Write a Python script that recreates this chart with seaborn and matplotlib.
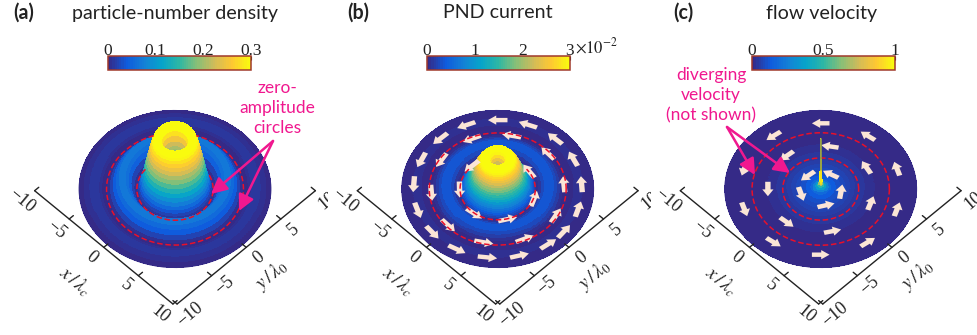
import numpy as np
import seaborn as sns
import matplotlib.pyplot as plt
from matplotlib.cm import ScalarMappable
from matplotlib.colors import ListedColormap, Normalize
from mpl_toolkits.mplot3d import proj3d
from mpl_toolkits.mplot3d.art3d import Poly3DCollection

# radial profiles
radii = [0, .1, .2, .3, .4, .5, .6, .7, .8, .9, 1, 1.1, 1.2, 1.3, 1.4, 1.5, 1.6, 1.7, 1.8, 1.9,
         2, 2.1, 2.2, 2.3, 2.4, 2.5, 2.6, 2.7, 2.8, 2.9, 3, 3.1, 3.2, 3.3, 3.4, 3.5, 3.6, 3.7, 3.8, 3.9,
         4.2, 4.5, 4.8, 5.1, 5.4, 5.7, 6.0, 6.3, 6.6, 6.9, 7.2, 7.5, 7.8, 8.1, 8.4, 8.7, 9.0, 9.3, 9.6, 9.8]
density = [.17, .17, .171, .172, .174, .176, .179, .182, .186, .191, .198, .212, .235, .265, .29, .305,
           .312, .316, .318, .318, .316, .31, .3, .288, .272, .254, .235, .215, .194, .172, .149, .126,
           .103, .082, .062, .044, .029, .016, .007, .002,
           .01, .032, .053, .066, .07, .063, .048, .029, .012, .002, .001, .004, .008, .011,
           .012, .01, .007, .004, .002, .001]
current = [.016, .0163, .017, .018, .0195, .021, .0235, .026, .0285, .0305, .0318, .0325, .0328, .0327,
           .0323, .0316, .0307, .0297, .0287, .0277, .0265, .0252, .0238, .0222, .0205, .0188, .0172,
           .0156, .014, .0125, .011, .0095, .0082, .007, .0058, .0047, .0036, .0026, .0016, .0006,
           .0008, .002, .003, .0036, .0036, .003, .002, .001, .0003, .0001, .0001,
           .0003, .0005, .0006, .0006, .0005, .0004, .0002, .0001, .0001]
velocity_radii = [0, .03, .06, .1, .15, .2, .3, .5, .75, 1, 1.5, 2, 2.5, 3, 3.5, 4, 4.5, 5,
                  5.5, 6, 7, 8, 9, 9.8]
velocity = [5, 3, 2, 1.2, .8, .55, .42, .3, .21, .16, .115, .09, .075, .06, .05, .04,
            .03, .02, .012, .006, .004, .003, .002, .001]
spike_upper = [1.75, 5]
spike_lower = [.5, 1.75]

# colour bars
titles = ["particle-number density", "PND current", "flow velocity"]
letters = ["(a)", "(b)", "(c)"]
bar_ticks = [[0, .1, .2, .3], [0, .01, .02, .03], [0, .5, 1]]
bar_labels = [["0", "0.1", "0.2", "0.3"], ["0", "1", "2", "3"], ["0", "0.5", "1"]]
bar_max = [.3, .03, 1]

# zero-amplitude circles: radius, first and last visible screen angle (deg)
circles_a = [(3.9, 141, 391), (7.0, 108, 432)]
circles_b = [(3.85, 140, 400), (7.0, 0, 360)]
circles_c = [(3.88, 0, 360), (7.02, 0, 360)]

# arrows: ring radius and screen angle of each arrow (deg)
arrows_b = [(8.6, [90, 112, 133, 155, 176, 198, 219, 241, 263, 285, 307, 322, 343, 4, 26, 47, 69]),
            (6.8, [78, 113, 148, 184, 222, 258, 294, 331, 5, 41]),
            (3.9, [133, 181, 232, 285, 342, 35])]
arrows_c = [(8.2, [90, 126, 162, 198, 234, 270, 306, 342, 18, 54]),
            (5.4, [80, 130, 180, 230, 283, 341, 30]),
            (2.1, [129, 197, 285, 351, 61])]

axis_ticks = [-10, -5, 0, 5, 10]
tick_names = ["\u221210", "\u22125", "0", "5", "10"]

PINK = "#f0188f"
RED = "#e8102a"
PEACH = "#fbe5d6"
DARK = "#222222"
SERIF = "Liberation Serif"
PX = 1 / 977, 1 / 335

sns.set_theme(style="white")
plt.rcParams["font.family"] = ["Lato", "DejaVu Sans"]
plt.rcParams["mathtext.fontset"] = "stix"

parula = ListedColormap(sns.blend_palette(
    ["#352a87", "#0f5cdd", "#1481d6", "#06a4ca", "#2eb7a4", "#87bf77", "#d1bb59", "#fec832", "#f9fb0e"],
    64))


def arrow_polygon(r, screen_deg, length=2.0, shaft=.55, head=1.15, head_len=.85):
    th = np.deg2rad(screen_deg + 45)
    n = np.array([np.cos(th), np.sin(th)])
    t = np.array([-np.sin(th), np.cos(th)])
    c = r * n
    along = [-length / 2, length / 2 - head_len, length / 2 - head_len, length / 2,
             length / 2 - head_len, length / 2 - head_len, -length / 2]
    across = [shaft / 2, shaft / 2, head / 2, 0, -head / 2, -shaft / 2, -shaft / 2]
    return [(*(c + a * t + b * n), 0) for a, b in zip(along, across)]


def floor_text(ax, x, y, s, rotation, **kw):
    # rotation does not survive on 3d text, so project by hand
    px, py, _ = proj3d.proj_transform(x, y, 0, ax.get_proj())
    ax.text2D(px, py, s, transform=ax.transData, rotation=rotation, rotation_mode="anchor",
              ha="center", va="center", color=DARK, clip_on=False, **kw)


def draw_panel(fig, cx, r, z, vmax, zh, circles, arrows=None, arrow_len=2.0):
    size = 330
    left = cx - .5135 * size
    bottom = (335 - 189) - .5135 * size
    ax = fig.add_axes([left * PX[0], bottom * PX[1], size * PX[0], size * PX[1]],
                      projection="3d", computed_zorder=False)
    ax.set_proj_type("ortho")
    ax.view_init(elev=55, azim=-45)
    ax.set_xlim(-15, 15)
    ax.set_ylim(-15, 15)
    ax.set_zlim(-zh, zh)
    ax.set_box_aspect((1, 1, 1), zoom=1.495)
    ax.set_xticks([])
    ax.set_yticks([])
    ax.set_zticks([])
    ax.set_axis_off()

    theta = np.deg2rad(np.arange(0, 361, 2))
    R, T = np.meshgrid(r, theta)
    Z = np.tile(z, (len(theta), 1))
    ax.plot_surface(R * np.cos(T), R * np.sin(T), Z, cmap=parula, vmin=0, vmax=vmax,
                    rstride=1, cstride=1, linewidth=0, antialiased=False, shade=False, zorder=1)
    # soft rim so the disc edge is not jagged
    ax.plot(r[-1] * np.cos(theta), r[-1] * np.sin(theta), 0, color="#352a87", lw=.8, zorder=1.5)

    if arrows:
        polys = [arrow_polygon(ring, a, length=arrow_len) for ring, angles in arrows for a in angles]
        arrow_set = Poly3DCollection(polys, zorder=2)
        ax.add_collection3d(arrow_set)
        arrow_set.set_facecolor(PEACH)
        arrow_set.set_edgecolor("none")

    for radius, a0, a1 in circles:
        th = np.deg2rad(np.arange(a0, a1 + 1) + 45)
        ax.plot(radius * np.cos(th), radius * np.sin(th), 0, color=RED, lw=1.1,
                ls=(0, (3.6, 1.8)), zorder=3)

    # hand drawn axes on the floor
    ax.plot([-10, 10], [-10.3, -10.3], 0, color=DARK, lw=1, zorder=3)
    ax.plot([10.3, 10.3], [-10, 10], 0, color=DARK, lw=1, zorder=3)
    for t, name in zip(axis_ticks, tick_names):
        ax.plot([t, t], [-10.3, -9.7], 0, color=DARK, lw=1, zorder=3)
        ax.plot([10.3, 9.7], [t, t], 0, color=DARK, lw=1, zorder=3)
        floor_text(ax, t, -12.1, name, -40, family=SERIF, fontsize=13)
        floor_text(ax, 12.1, t, name, 40, family=SERIF, fontsize=13)
    floor_text(ax, .9, -15.3, r"$x\,/\,\lambda_c$", -40, fontsize=13.5)
    floor_text(ax, 14.6, -.6, r"$y\,/\,\lambda_0$", 40, fontsize=13.5)
    return ax


def draw_bar(fig, left, i):
    cax = fig.add_axes([left * PX[0], (335 - 70) * PX[1], 143 * PX[0], 14 * PX[1]])
    cbar = fig.colorbar(ScalarMappable(Normalize(0, bar_max[i]), parula), cax=cax,
                        orientation="horizontal", ticks=bar_ticks[i])
    cbar.outline.set_edgecolor("#a0392b")
    cbar.outline.set_linewidth(1.1)
    cax.xaxis.set_ticks_position("top")
    cax.tick_params(axis="x", direction="in", length=3, width=.8, color=DARK, pad=-2.5, top=True, bottom=False)
    cax.set_xticklabels(bar_labels[i], family=SERIF, fontsize=12.5, color=DARK)


def main():
    fig = plt.figure(figsize=(9.77, 3.35), dpi=100)

    draw_panel(fig, 175, radii, density, .3, .517, circles_a)
    draw_panel(fig, 497.7, radii, current, .03, .0842, circles_b, arrows_b)
    ax_c = draw_panel(fig, 820.7, velocity_radii, velocity, 1, 8.4, circles_c, arrows_c, arrow_len=1.8)
    ax_c.plot([0, 0], [0, 0], spike_upper, color="#8f9a4a", lw=1.3, zorder=5)
    ax_c.plot([0, 0], [0, 0], spike_lower, color="#f4e21c", lw=1.3, zorder=5)

    for i, left in enumerate([108, 427, 752]):
        draw_bar(fig, left, i)

    over = fig.add_axes([0, 0, 1, 1], facecolor="none")
    over.set_xlim(0, 977)
    over.set_ylim(335, 0)
    over.set_axis_off()

    for i, (x, lx) in enumerate(zip([175, 498, 822], [24, 358, 683])):
        over.text(x, 13, titles[i], ha="center", va="center", fontsize=14.1, color=DARK)
        over.text(lx, 13, letters[i], ha="center", va="center", fontsize=14.1,
                  fontweight="bold", color=DARK)

    over.text(597, 46, r"$\times 10^{-2}$", ha="center", va="center", fontsize=12, color=DARK)

    over.text(277, 108, "zero-\namplitude\ncircles", ha="center", va="center", color=PINK,
              fontsize=12.5, linespacing=1.3)
    over.text(711, 95, "diverging\nvelocity\n(not shown)", ha="center", va="center", color=PINK,
              fontsize=12.5, linespacing=1.3)
    style = dict(arrowstyle="-|>,head_width=.4,head_length=.8", color=PINK, lw=1.8, shrinkA=0, shrinkB=0)
    for start, tip in [((273, 141), (211, 194)), ((273, 141), (239, 211)),
                       ((727, 127), (755, 175)), ((727, 127), (790, 173))]:
        over.annotate("", xy=tip, xytext=start, arrowprops=style)

    fig.savefig("out.png", dpi=100)


if __name__ == "__main__":
    main()
